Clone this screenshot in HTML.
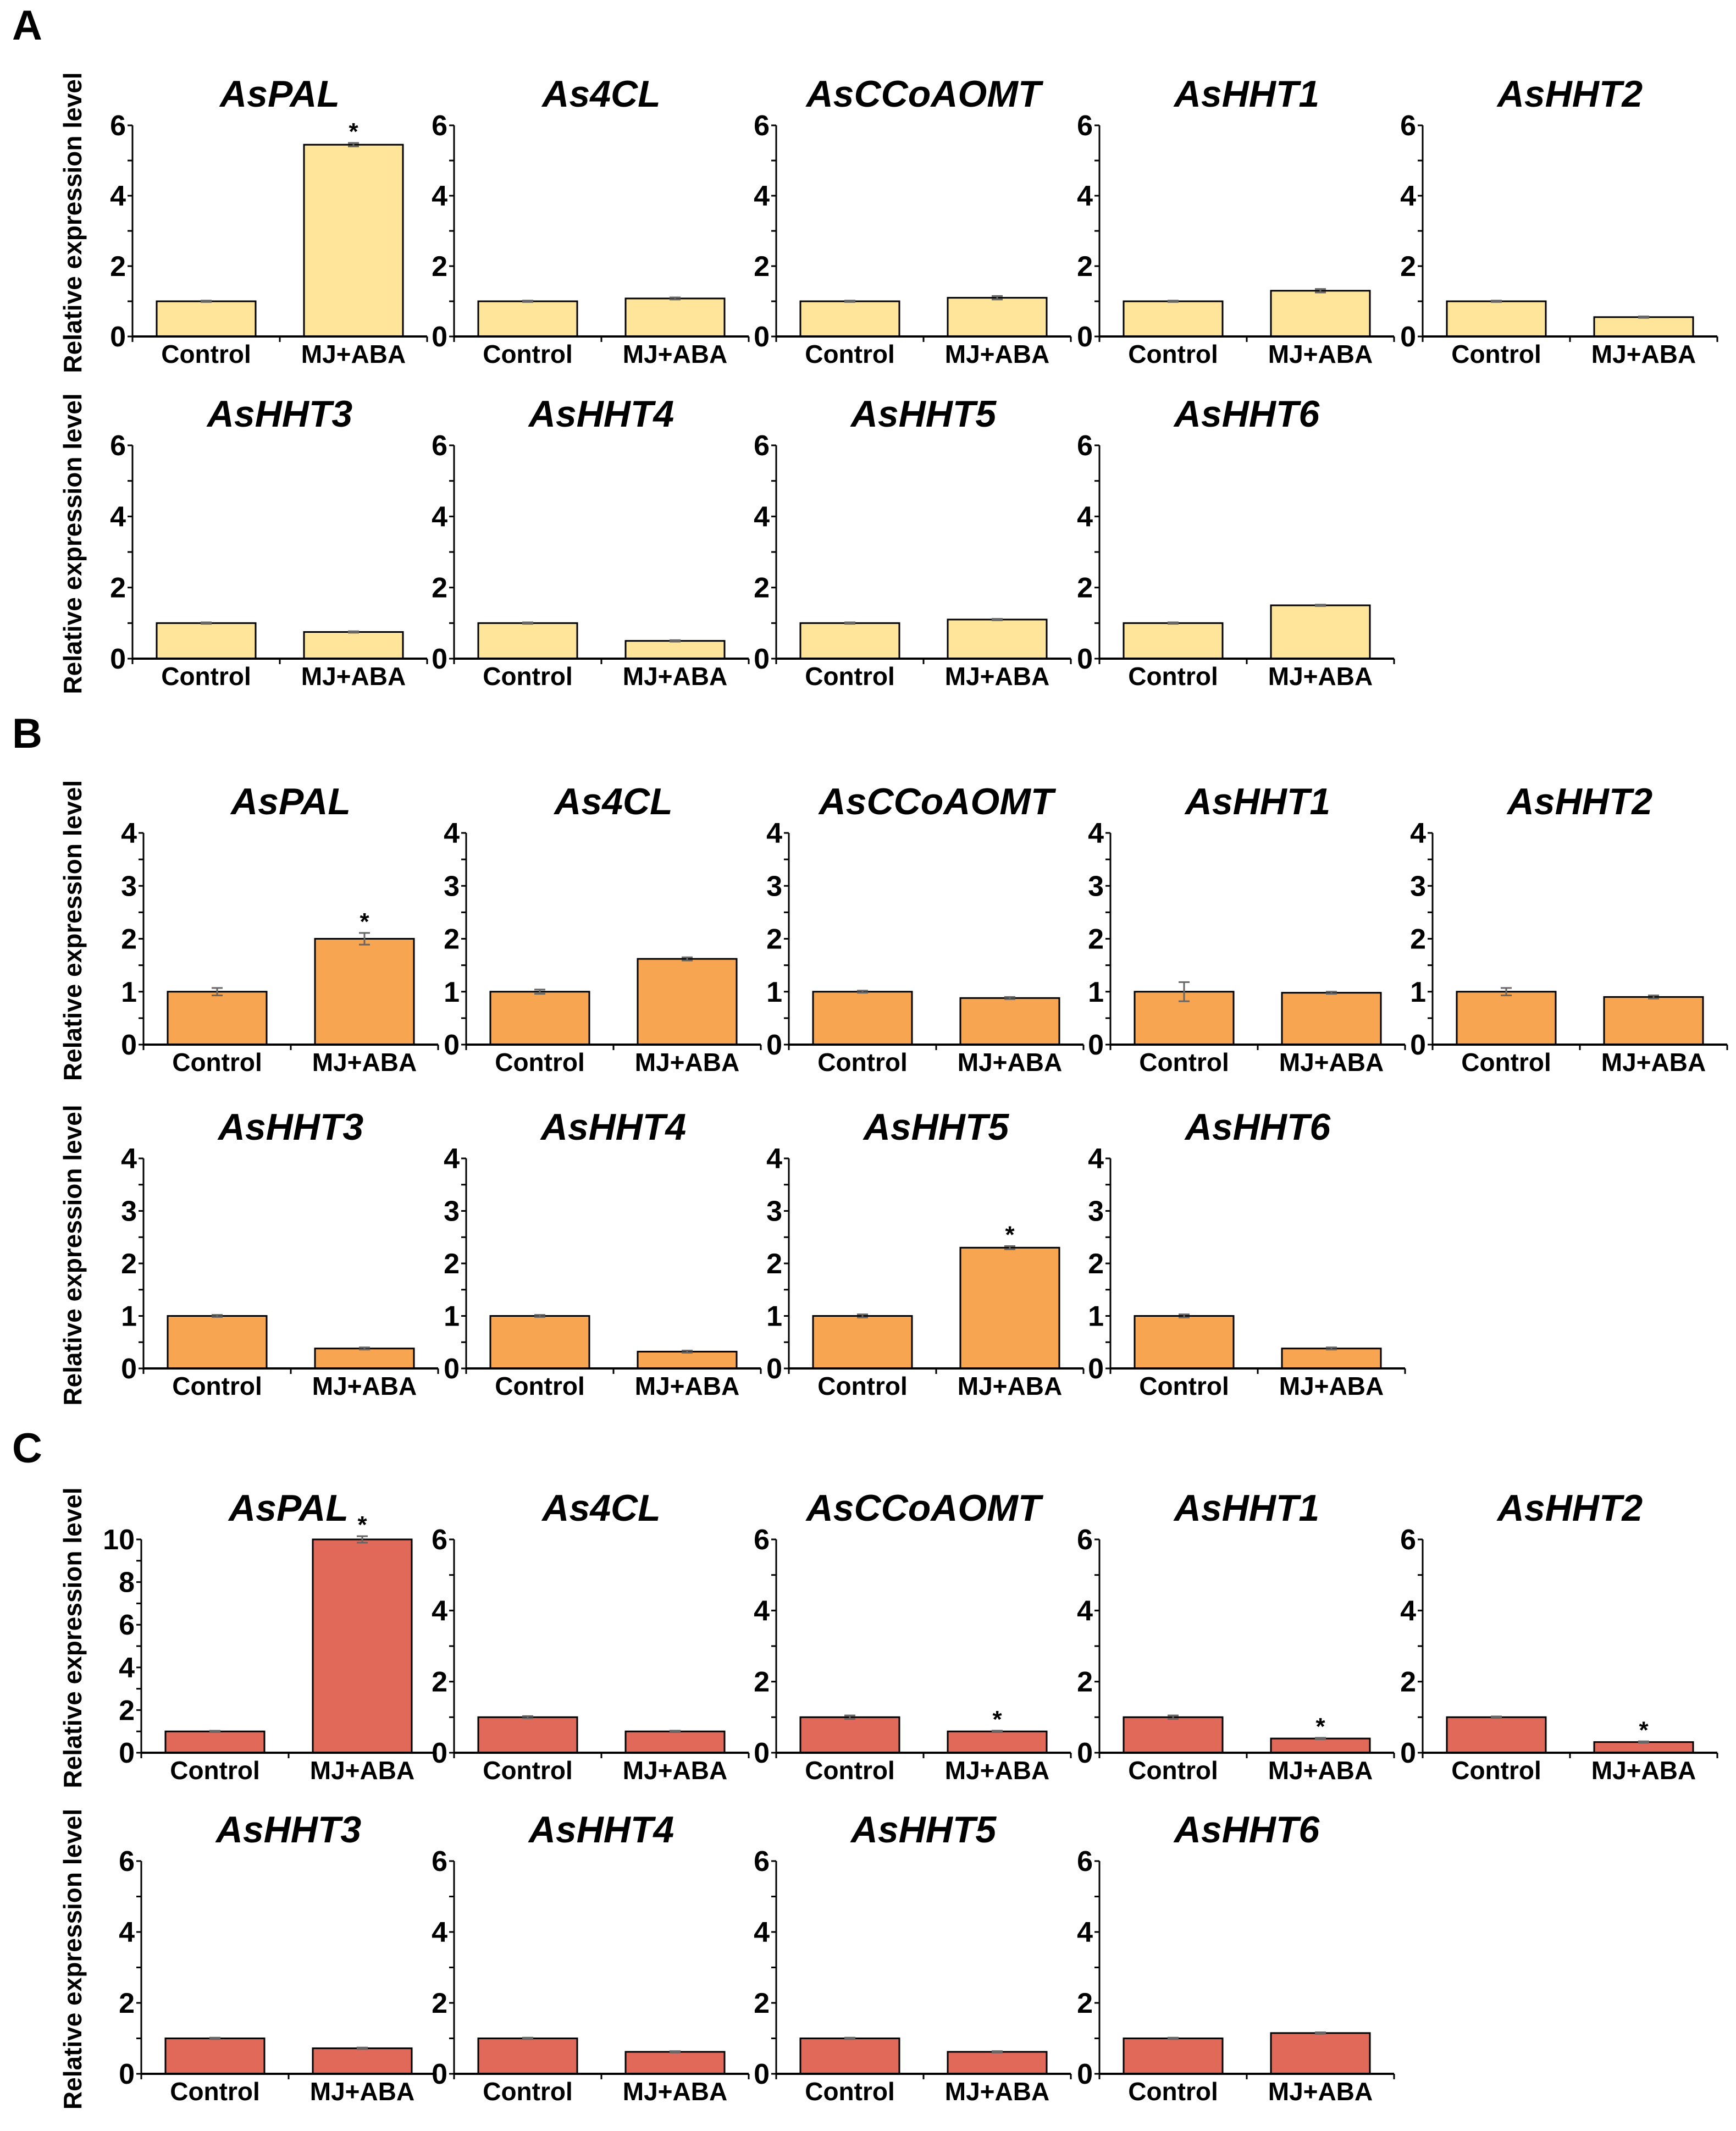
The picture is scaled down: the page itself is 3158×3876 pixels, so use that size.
<!DOCTYPE html>
<html><head><meta charset="utf-8"><style>
html,body{margin:0;padding:0;background:#fff;}
svg{display:block;font-family:"Liberation Sans",Arial,sans-serif;}
</style></head><body>
<svg id="fig" width="3158" height="3876" viewBox="0 0 3158 3876" xmlns="http://www.w3.org/2000/svg"></svg>
<script>
const genes = ["AsPAL","As4CL","AsCCoAOMT","AsHHT1","AsHHT2","AsHHT3","AsHHT4","AsHHT5","AsHHT6"];
const categories = ["Control","MJ+ABA"];
const ctrlA = [1,1,1,1,1,1,1,1,1];
const trtA  = [5.45,1.08,1.1,1.3,0.55,0.75,0.5,1.1,1.5];
const errCA = [0.02,0.02,0.02,0.02,0.02,0.02,0.02,0.02,0.02];
const errTA = [0.05,0.03,0.05,0.05,0.02,0.02,0.02,0.02,0.02];
const starA = [1,0,0,0,0,0,0,0,0];
const ctrlB = [1,1,1,1,1,1,1,1,1];
const trtB  = [2.0,1.62,0.88,0.98,0.9,0.38,0.32,2.3,0.38];
const errCB = [0.07,0.04,0.02,0.18,0.07,0.02,0.02,0.03,0.03];
const errTB = [0.11,0.03,0.02,0.02,0.03,0.02,0.02,0.03,0.02];
const starB = [1,0,0,0,0,0,0,1,0];
const ctrlC = [1,1,1,1,1,1,1,1,1];
const trtC  = [10,0.6,0.6,0.4,0.3,0.72,0.62,0.62,1.15];
const errCC = [0.03,0.03,0.05,0.05,0.02,0.02,0.02,0.02,0.02];
const errTC = [0.15,0.02,0.02,0.02,0.02,0.02,0.02,0.02,0.02];
const starC = [1,0,1,1,1,0,0,0,0];
const maxA = [6,6,6,6,6,6,6,6,6];
const maxB = [4,4,4,4,4,4,4,4,4];
const maxC = [10,6,6,6,6,6,6,6,6];
const ticksA = [0,2,4,6];
const ticksB = [0,1,2,3,4];
const ticksC10 = [0,2,4,6,8,10];

const NS="http://www.w3.org/2000/svg";
const svg=document.getElementById('fig');
function mk(tag,attrs,parent){const e=document.createElementNS(NS,tag);for(const k in attrs)e.setAttribute(k,attrs[k]);(parent||svg).appendChild(e);return e;}

const sections=[
 {letter:"A",ly:72,color:"#FFE59A",ctrl:ctrlA,trt:trtA,ec:errCA,et:errTA,star:starA,max:maxA,
  axX:[241,826,1412,2000,2588],rows:[{top:228,zero:612},{top:810,zero:1198}]},
 {letter:"B",ly:1360,color:"#F8A552",ctrl:ctrlB,trt:trtB,ec:errCB,et:errTB,star:starB,max:maxB,
  axX:[261,848,1435,2020,2606],rows:[{top:1515,zero:1900},{top:2107,zero:2489}]},
 {letter:"C",ly:2660,color:"#E0695A",ctrl:ctrlC,trt:trtC,ec:errCC,et:errTC,star:starC,max:maxC,
  axX:[257,826,1412,2000,2588],rows:[{top:2800,zero:3188},{top:3385,zero:3772}]}
];
const W=536;
sections.forEach((s,si)=>{
  const lt=mk('text',{x:22,y:s.ly,'font-size':76,'font-weight':'bold',fill:'#000'});
  
  
  lt.textContent=s.letter;
  for(let gi=0;gi<9;gi++){
    const row=gi<5?0:1, col=gi<5?gi:gi-5;
    const R=s.rows[row]; const ax=s.axX[col];
    const max=s.max[gi];
    const y=v=>R.zero-(v/max)*(R.zero-R.top);
    const x=i=>ax+W*(i+0.5)/2;
    const g=mk('g',{});
    
    
    if(col===0){
      const yt=mk('text',{x:0,y:0,'font-size':46,'font-weight':'bold','text-anchor':'middle',transform:`translate(148,${(R.top-70+R.zero+40)/2}) rotate(-90)`},g);
      
      
      yt.textContent="Relative expression level";
    }
    const t=mk('text',{x:ax+W/2,y:R.top-34,'font-size':68,'font-weight':'bold','font-style':'italic','text-anchor':'middle'},g);
    
    
    t.textContent=genes[gi];
    const ticks=max===10?ticksC10:(max===4?ticksB:ticksA);
    const step=ticks[1]-ticks[0];
    for(let v=0;v<=max+1e-9;v+=step/2){
      mk('line',{x1:ax-9,x2:ax,y1:y(v),y2:y(v),stroke:'#000','stroke-width':3},g);
    }
    ticks.forEach(v=>{
      const tl=mk('text',{x:ax-12,y:y(v)+18,'font-size':52,'font-weight':'bold','text-anchor':'end'},g);
      
      
      tl.textContent=v;
    });
    [0,0.5,1].forEach(f=>mk('line',{x1:ax+W*f,x2:ax+W*f,y1:R.zero,y2:R.zero+10,stroke:'#000','stroke-width':3},g));
    const vals=[s.ctrl[gi],s.trt[gi]], errs=[s.ec[gi],s.et[gi]];
    vals.forEach((v,i)=>{
      const bw=180;
      const b=mk('rect',{x:x(i)-bw/2,y:y(v),width:bw,height:R.zero-y(v),fill:s.color,stroke:'#000','stroke-width':3},g);
      
      
      const e=errs[i];
      mk('line',{x1:x(i),x2:x(i),y1:y(v+e),y2:y(v-e),stroke:'#666','stroke-width':3},g);
      mk('line',{x1:x(i)-10,x2:x(i)+10,y1:y(v+e),y2:y(v+e),stroke:'#666','stroke-width':3},g);
      mk('line',{x1:x(i)-10,x2:x(i)+10,y1:y(v-e),y2:y(v-e),stroke:'#666','stroke-width':3},g);
      if(i===1&&s.star[gi]){
        const st=mk('text',{x:x(i),y:y(v+e)-6,'font-size':44,'font-weight':'bold','text-anchor':'middle'},g);
        
        
        st.textContent="*";
      }
      const cl=mk('text',{x:x(i),y:R.zero+48,'font-size':46,'font-weight':'bold','text-anchor':'middle'},g);
      
      
      cl.textContent=categories[i];
    });
    mk('line',{x1:ax,x2:ax,y1:R.top,y2:R.zero,stroke:'#000','stroke-width':3},g);
    mk('line',{x1:ax,x2:ax+W,y1:R.zero,y2:R.zero,stroke:'#000','stroke-width':4},g);
  }
});
</script>
</body></html>
